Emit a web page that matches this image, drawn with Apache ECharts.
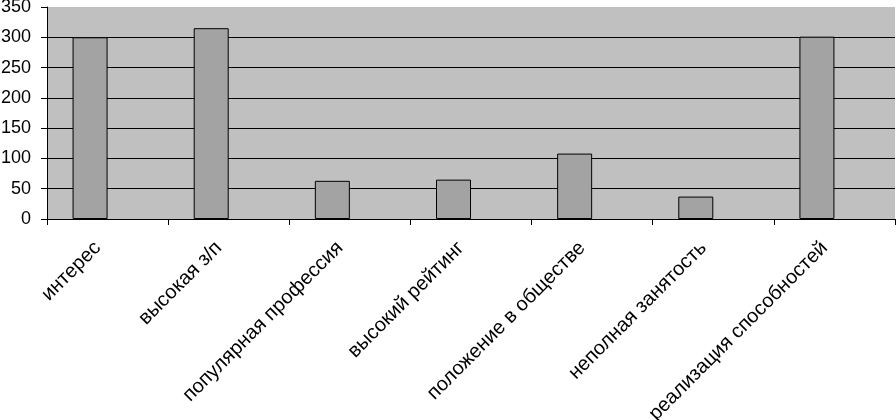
<!DOCTYPE html>
<html>
<head>
<meta charset="utf-8">
<script src="https://cdn.jsdelivr.net/npm/echarts@6/dist/echarts.min.js"></script>
<style>html,body{margin:0;padding:0;background:#fff}#c{width:896px;height:420px}</style>
</head>
<body>
<div id="c"></div>
<script>
const categories = ['интерес', 'высокая з/п', 'популярная профессия', 'высокий рейтинг', 'положение в обществе', 'неполная занятость', 'реализация способностей'];
const values = [300, 315, 63, 65, 108, 37, 301];
const emptySeries = [null, null, null, null, null, null, null];
const yTicks = [0, 50, 100, 150, 200, 250, 300, 350];

const chart = echarts.init(document.getElementById('c'), null, {renderer: 'canvas'});
chart.setOption({
  animation: false,
  backgroundColor: '#ffffff',
  grid: {left: 47, right: 1, top: 7, bottom: 201, containLabel: false, outerBoundsMode: 'none', show: true, backgroundColor: '#c0c0c0', borderWidth: 0},
  xAxis: {
    type: 'category',
    data: categories,
    boundaryGap: true,
    axisLine: {lineStyle: {color: '#000', width: 1}},
    axisTick: {show: true, length: 6, lineStyle: {color: '#000'}},
    axisLabel: {rotate: 45, interval: 0, margin: 16, padding: [0, 14, 0, 0], color: '#000', fontFamily: 'Liberation Sans, Arial, sans-serif', fontSize: 20}
  },
  yAxis: {
    type: 'value',
    min: yTicks[0],
    max: yTicks[yTicks.length - 1],
    interval: 50,
    axisLine: {show: true, lineStyle: {color: '#000', width: 1}},
    axisTick: {show: true, length: 6, lineStyle: {color: '#000'}},
    axisLabel: {margin: 16, color: '#000', fontFamily: 'Liberation Sans, Arial, sans-serif', fontSize: 18},
    splitLine: {show: true, showMaxLine: false, lineStyle: {color: '#000', width: 1}}
  },
  series: [
    {type: 'bar', data: values, barWidth: 35, barGap: '0%', itemStyle: {color: '#a3a3a3', borderColor: '#000', borderWidth: 1}},
    {type: 'bar', data: emptySeries, barWidth: 35, itemStyle: {color: '#a3a3a3', borderColor: '#000', borderWidth: 1}}
  ]
});
</script>
</body>
</html>
